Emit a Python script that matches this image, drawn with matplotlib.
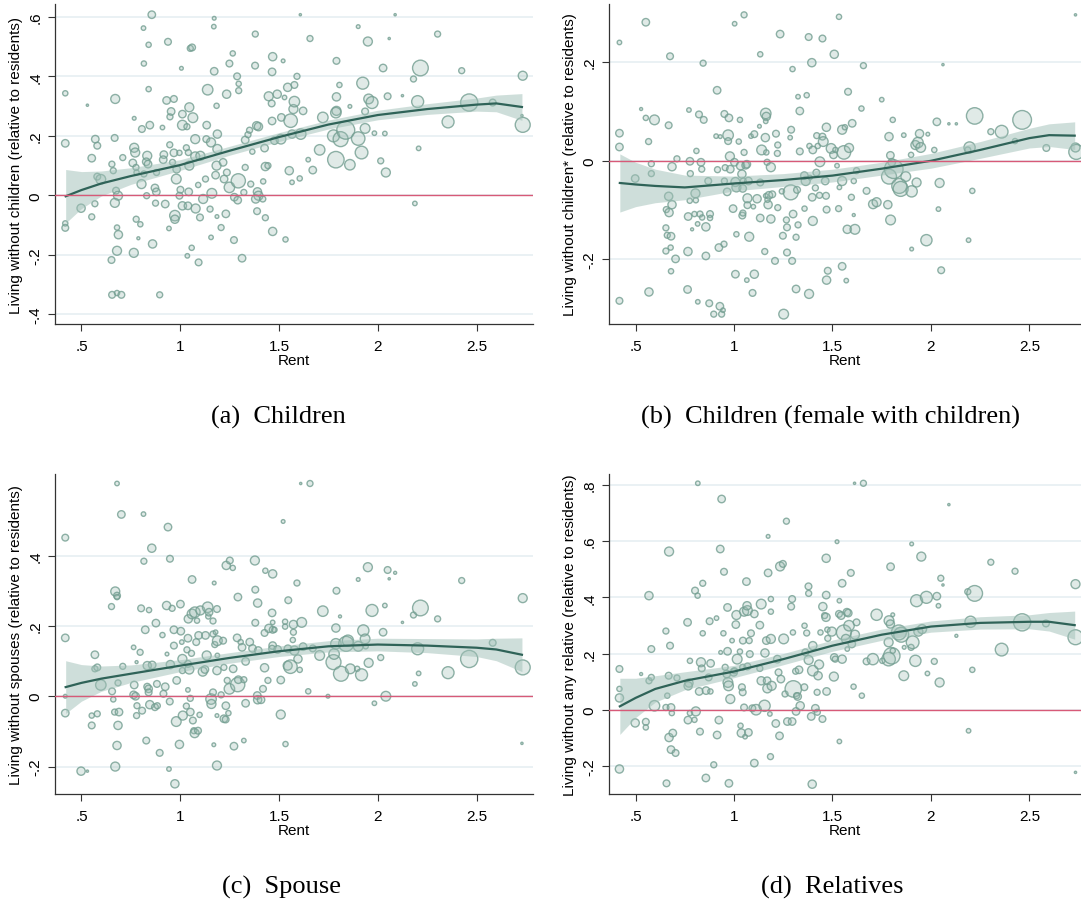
import numpy as np
import matplotlib
matplotlib.use("Agg")
import matplotlib.pyplot as plt

# scatter points per panel: (rent, value, weight)
a_points = [
    (0.418, 0.343, 7), (0.418, 0.175, 10), (0.418, -0.094, 7), (0.418, -0.109, 9), (0.530, 0.303, 3),
    (0.498, -0.043, 11), (0.552, 0.125, 10), (0.570, 0.189, 10), (0.580, 0.167, 9), (0.580, 0.063, 9),
    (0.598, 0.054, 13), (0.568, -0.028, 8), (0.552, -0.072, 8), (0.671, 0.324, 12), (0.668, 0.193, 9),
    (0.654, 0.105, 8), (0.661, 0.083, 8), (0.675, 0.016, 9), (0.685, -0.001, 12), (0.669, -0.025, 12),
    (0.680, -0.108, 7), (0.687, -0.132, 11), (0.680, -0.186, 12), (0.652, -0.217, 9), (0.655, -0.334, 9),
    (0.680, -0.328, 7), (0.702, -0.334, 9), (0.709, 0.127, 8), (0.767, 0.259, 5), (0.767, 0.160, 12),
    (0.772, 0.144, 12), (0.760, 0.109, 10), (0.776, 0.094, 8), (0.779, 0.077, 7), (0.804, 0.038, 12),
    (0.806, 0.223, 9), (0.814, 0.562, 6), (0.816, 0.443, 7), (0.840, 0.506, 7), (0.840, 0.357, 7),
    (0.846, 0.236, 10), (0.833, 0.133, 12), (0.828, 0.113, 10), (0.837, 0.105, 10), (0.856, 0.607, 10),
    (0.816, 0.072, 8), (0.830, -0.001, 8), (0.777, -0.080, 8), (0.798, -0.097, 7), (0.788, -0.144, 4),
    (0.765, -0.193, 12), (0.860, -0.163, 11), (0.872, 0.025, 10), (0.879, 0.012, 10), (0.880, 0.077, 8),
    (0.875, -0.026, 8), (0.896, -0.334, 8), (0.910, 0.228, 6), (0.917, 0.137, 10), (0.914, 0.120, 10),
    (0.924, -0.029, 10), (0.931, 0.319, 10), (0.938, 0.516, 9), (0.943, -0.111, 6), (0.948, 0.264, 8),
    (0.947, 0.170, 8), (0.954, 0.282, 10), (0.968, 0.324, 9), (0.961, 0.111, 8), (0.968, 0.143, 10),
    (0.973, -0.068, 14), (0.973, -0.080, 11), (0.980, 0.055, 13), (0.982, 0.088, 10), (0.996, 0.143, 7),
    (1.006, 0.427, 5), (1.011, 0.273, 10), (1.011, 0.236, 13), (0.996, -0.001, 9), (1.001, 0.019, 9),
    (1.011, -0.035, 11), (1.034, 0.231, 8), (1.031, 0.160, 8), (1.041, 0.144, 8), (1.043, 0.012, 10),
    (1.039, -0.035, 10), (1.046, 0.100, 12), (1.036, -0.203, 6), (1.046, 0.296, 12), (1.051, 0.494, 8),
    (1.060, 0.497, 9), (1.058, -0.176, 7), (1.064, 0.261, 13), (1.076, 0.189, 12), (1.076, 0.131, 12),
    (1.078, -0.044, 12), (1.093, -0.225, 9), (1.091, 0.035, 7), (1.100, -0.074, 9), (1.102, 0.133, 12),
    (1.116, -0.012, 12), (1.128, 0.055, 8), (1.134, 0.236, 10), (1.139, 0.355, 14), (1.132, 0.189, 9),
    (1.151, -0.046, 8), (1.156, -0.141, 6), (1.156, 0.178, 12), (1.160, 0.007, 13), (1.172, 0.595, 5),
    (1.170, 0.567, 6), (1.172, 0.417, 10), (1.184, 0.301, 7), (1.188, 0.206, 11), (1.188, 0.156, 12),
    (1.184, 0.100, 12), (1.186, -0.071, 5), (1.179, 0.068, 10), (1.207, -0.108, 8), (1.217, 0.111, 10),
    (1.222, 0.055, 10), (1.231, -0.062, 10), (1.235, 0.340, 11), (1.236, 0.077, 9), (1.249, 0.027, 14),
    (1.249, 0.443, 9), (1.266, 0.477, 7), (1.274, -0.006, 10), (1.272, -0.150, 9), (1.288, 0.400, 9),
    (1.296, 0.375, 7), (1.296, 0.352, 8), (1.294, 0.049, 19), (1.291, -0.016, 10), (1.313, -0.211, 10),
    (1.322, 0.010, 8), (1.329, 0.094, 8), (1.329, 0.186, 10), (1.343, 0.204, 8), (1.351, 0.219, 8),
    (1.365, 0.147, 7), (1.357, 0.038, 8), (1.380, 0.542, 8), (1.379, 0.436, 9), (1.387, 0.234, 11),
    (1.396, 0.231, 11), (1.391, 0.012, 11), (1.396, -0.001, 12), (1.382, -0.012, 11), (1.389, -0.053, 9),
    (1.418, -0.012, 8), (1.420, 0.047, 7), (1.427, 0.159, 10), (1.431, 0.097, 11), (1.444, 0.100, 8),
    (1.431, -0.075, 8), (1.448, 0.333, 12), (1.463, 0.309, 9), (1.465, 0.415, 10), (1.468, 0.466, 11),
    (1.465, 0.250, 10), (1.468, -0.121, 11), (1.477, 0.184, 10), (1.491, 0.340, 11), (1.510, 0.189, 13),
    (1.512, 0.262, 10), (1.521, 0.452, 5), (1.528, 0.329, 6), (1.533, -0.148, 7), (1.544, 0.363, 11),
    (1.552, 0.083, 11), (1.559, 0.251, 18), (1.566, 0.206, 11), (1.566, 0.044, 6), (1.573, 0.290, 12),
    (1.578, 0.315, 14), (1.578, 0.371, 9), (1.591, 0.400, 8), (1.605, 0.057, 7), (1.608, 0.607, 3),
    (1.610, 0.206, 14), (1.622, 0.284, 10), (1.648, 0.120, 6), (1.657, 0.527, 8), (1.671, 0.085, 10),
    (1.706, 0.153, 14), (1.722, 0.262, 14), (1.791, 0.452, 9), (1.776, 0.200, 16), (1.791, 0.284, 12),
    (1.791, 0.331, 11), (1.788, 0.278, 14), (1.806, 0.371, 7), (1.788, 0.120, 22), (1.812, 0.189, 20),
    (1.838, 0.219, 24), (1.859, 0.299, 5), (1.859, 0.103, 14), (1.901, 0.567, 5), (1.901, 0.191, 18),
    (1.918, 0.144, 17), (1.924, 0.377, 16), (1.936, 0.225, 13), (1.936, 0.282, 9), (1.950, 0.517, 12),
    (1.954, 0.324, 13), (1.971, 0.312, 16), (1.983, 0.209, 6), (2.015, 0.116, 8), (2.027, 0.428, 10),
    (2.036, 0.208, 6), (2.041, 0.077, 12), (2.050, 0.333, 9), (2.058, 0.527, 3), (2.088, 0.607, 3),
    (2.125, 0.335, 3), (2.181, 0.391, 8), (2.188, -0.027, 6), (2.202, 0.315, 16), (2.207, 0.158, 6),
    (2.216, 0.428, 21), (2.303, 0.542, 8), (2.356, 0.247, 16), (2.425, 0.419, 8), (2.463, 0.312, 23),
    (2.582, 0.312, 9), (2.734, 0.402, 12), (2.734, 0.237, 20), (2.730, 0.268, 3),
]

b_points = [
    (0.418, 0.240, 6), (0.418, 0.056, 10), (0.418, 0.028, 10), (0.418, -0.284, 9), (0.498, -0.036, 10),
    (0.528, 0.105, 4), (0.552, 0.281, 10), (0.552, 0.087, 7), (0.596, 0.083, 13), (0.566, 0.039, 8),
    (0.580, -0.006, 8), (0.580, -0.026, 8), (0.568, -0.266, 11), (0.668, 0.072, 9), (0.675, 0.212, 9),
    (0.685, -0.012, 11), (0.668, -0.072, 11), (0.685, -0.089, 11), (0.656, -0.099, 8), (0.670, -0.105, 11),
    (0.654, -0.136, 8), (0.661, -0.151, 8), (0.680, -0.153, 10), (0.678, -0.176, 7), (0.654, -0.183, 8),
    (0.703, -0.199, 10), (0.680, -0.224, 7), (0.710, 0.004, 8), (0.771, 0.103, 6), (0.822, 0.094, 9),
    (0.846, 0.083, 9), (0.843, 0.198, 8), (0.809, 0.020, 7), (0.776, -0.001, 10), (0.832, -0.003, 10),
    (0.836, -0.017, 8), (0.778, -0.026, 8), (0.804, -0.066, 12), (0.775, -0.081, 7), (0.806, -0.080, 7),
    (0.799, -0.108, 7), (0.767, -0.113, 10), (0.827, -0.108, 8), (0.838, -0.115, 7), (0.815, -0.128, 6),
    (0.787, -0.139, 4), (0.857, -0.134, 11), (0.878, -0.108, 9), (0.878, -0.116, 7), (0.869, -0.041, 9),
    (0.857, -0.193, 10), (0.766, -0.184, 11), (0.764, -0.261, 10), (0.816, -0.286, 6), (0.874, -0.289, 9),
    (0.897, -0.311, 8), (0.928, -0.295, 10), (0.937, -0.311, 8), (0.944, -0.303, 6), (0.914, 0.143, 10),
    (0.909, 0.050, 6), (0.930, 0.049, 5), (0.916, -0.018, 8), (0.951, 0.095, 9), (0.955, -0.014, 8),
    (0.951, -0.041, 8), (0.965, -0.063, 10), (0.923, -0.176, 10), (0.949, -0.169, 8), (0.970, 0.052, 14),
    (0.970, 0.040, 9), (0.974, 0.087, 10), (0.979, 0.009, 12), (0.981, -0.017, 10), (0.995, -0.097, 10),
    (1.002, -0.003, 10), (1.007, -0.043, 12), (1.012, -0.054, 12), (1.003, 0.278, 6), (1.007, -0.230, 10),
    (1.012, -0.149, 7), (1.024, 0.039, 7), (1.030, 0.083, 7), (1.033, -0.010, 11), (1.040, -0.027, 11),
    (1.044, -0.056, 10), (1.047, -0.041, 8), (1.051, 0.296, 8), (1.051, 0.017, 8), (1.059, -0.009, 10),
    (1.065, -0.007, 10), (1.068, -0.076, 12), (1.073, -0.041, 10), (1.068, -0.090, 9), (1.077, -0.154, 12),
    (1.042, -0.111, 9), (1.045, -0.106, 8), (1.065, -0.242, 6), (1.103, -0.230, 11), (1.094, -0.268, 9),
    (1.086, 0.050, 6), (1.098, -0.093, 6), (1.103, 0.054, 9), (1.117, -0.077, 11), (1.133, -0.044, 9),
    (1.129, 0.070, 5), (1.133, 0.216, 7), (1.133, -0.116, 10), (1.140, 0.022, 13), (1.156, -0.184, 8),
    (1.161, -0.071, 6), (1.161, 0.096, 14), (1.164, 0.090, 11), (1.161, 0.080, 6), (1.159, 0.047, 11),
    (1.164, 0.017, 7), (1.168, -0.003, 8), (1.173, -0.089, 11), (1.170, -0.079, 7), (1.177, -0.070, 10),
    (1.187, -0.013, 12), (1.187, -0.118, 11), (1.194, -0.068, 9), (1.208, -0.203, 9), (1.213, 0.055, 9),
    (1.222, 0.032, 8), (1.222, -0.095, 8), (1.220, 0.015, 8), (1.234, 0.257, 10), (1.243, -0.062, 7),
    (1.248, -0.152, 9), (1.252, -0.311, 13), (1.269, -0.135, 9), (1.269, -0.186, 9), (1.266, -0.120, 8),
    (1.290, 0.063, 9), (1.285, 0.047, 6), (1.288, -0.064, 20), (1.295, -0.203, 9), (1.300, -0.108, 10),
    (1.297, 0.186, 7), (1.315, -0.155, 8), (1.315, -0.260, 10), (1.320, -0.059, 9), (1.325, 0.130, 6),
    (1.334, 0.101, 10), (1.325, -0.130, 8), (1.334, 0.019, 9), (1.358, -0.097, 7), (1.357, -0.030, 10),
    (1.364, -0.041, 12), (1.369, 0.133, 7), (1.379, 0.251, 9), (1.381, -0.270, 12), (1.383, 0.030, 7),
    (1.386, -0.034, 6), (1.395, 0.199, 11), (1.397, -0.074, 10), (1.400, -0.122, 12), (1.400, 0.022, 10),
    (1.413, -0.055, 8), (1.418, -0.024, 9), (1.425, 0.030, 7), (1.434, -0.070, 8), (1.420, 0.051, 8),
    (1.449, 0.248, 9), (1.449, 0.049, 9), (1.453, 0.039, 13), (1.436, -0.002, 13), (1.469, 0.068, 11),
    (1.463, -0.041, 10), (1.467, -0.071, 9), (1.470, -0.099, 9), (1.476, -0.223, 9), (1.470, -0.242, 11),
    (1.493, 0.025, 13), (1.509, 0.216, 11), (1.505, 0.012, 10), (1.515, 0.022, 7), (1.523, -0.010, 6),
    (1.533, 0.292, 7), (1.535, -0.054, 6), (1.531, -0.097, 8), (1.549, 0.063, 12), (1.558, 0.017, 18),
    (1.549, -0.041, 12), (1.549, -0.214, 10), (1.563, 0.068, 7), (1.570, -0.243, 6), (1.575, -0.139, 11),
    (1.579, 0.140, 9), (1.584, 0.026, 12), (1.596, -0.074, 8), (1.600, 0.076, 10), (1.614, -0.139, 13),
    (1.608, -0.041, 7), (1.608, -0.110, 4), (1.622, -0.020, 8), (1.647, 0.106, 7), (1.657, 0.193, 8),
    (1.673, -0.061, 9), (1.706, -0.088, 12), (1.724, -0.084, 12), (1.750, 0.124, 6), (1.781, -0.089, 11),
    (1.787, 0.049, 11), (1.794, 0.011, 10), (1.795, -0.120, 13), (1.787, -0.032, 20), (1.801, -0.003, 10),
    (1.806, 0.083, 7), (1.811, -0.017, 25), (1.839, -0.051, 20), (1.846, -0.057, 20), (1.862, 0.052, 6),
    (1.872, -0.032, 13), (1.902, -0.062, 15), (1.902, -0.179, 5), (1.899, 0.012, 7), (1.921, 0.032, 12),
    (1.927, -0.044, 12), (1.934, 0.037, 14), (1.942, 0.055, 11), (1.948, 0.027, 13), (1.984, 0.054, 5),
    (1.977, -0.161, 15), (2.017, 0.022, 7), (2.030, 0.079, 10), (2.038, -0.098, 6), (2.044, -0.045, 12),
    (2.052, -0.222, 9), (2.061, 0.195, 3), (2.091, 0.075, 3), (2.129, 0.075, 3), (2.187, 0.022, 8),
    (2.196, 0.027, 15), (2.191, -0.161, 6), (2.210, -0.061, 7), (2.222, 0.091, 22), (2.304, 0.059, 8),
    (2.359, 0.059, 17), (2.427, 0.040, 7), (2.463, 0.083, 25), (2.586, 0.026, 9), (2.734, 0.296, 3),
    (2.734, 0.027, 12), (2.738, 0.018, 20),
]

c_points = [
    (0.418, 0.451, 9), (0.418, 0.166, 10), (0.418, 0.000, 5), (0.418, -0.048, 10), (0.498, -0.213, 11),
    (0.530, -0.213, 3), (0.552, -0.083, 9), (0.552, -0.055, 7), (0.568, 0.118, 10), (0.568, 0.078, 8),
    (0.580, 0.082, 9), (0.580, -0.050, 8), (0.598, 0.032, 14), (0.652, 0.255, 8), (0.655, 0.014, 9),
    (0.661, -0.009, 7), (0.668, -0.045, 8), (0.671, 0.298, 12), (0.680, 0.286, 9), (0.680, 0.282, 7),
    (0.680, 0.605, 6), (0.680, -0.140, 11), (0.685, 0.038, 8), (0.685, -0.083, 11), (0.690, -0.045, 10),
    (0.671, -0.200, 12), (0.702, 0.517, 10), (0.709, 0.085, 8), (0.764, 0.139, 6), (0.767, 0.032, 10),
    (0.764, 0.004, 10), (0.774, 0.000, 10), (0.779, -0.055, 8), (0.781, -0.027, 8), (0.779, 0.097, 4),
    (0.797, 0.125, 8), (0.807, -0.041, 9), (0.802, 0.250, 9), (0.814, 0.518, 6), (0.816, 0.384, 8),
    (0.823, 0.189, 10), (0.833, 0.087, 11), (0.828, -0.126, 9), (0.833, 0.027, 9), (0.842, 0.245, 7),
    (0.840, 0.021, 10), (0.840, 0.011, 9), (0.846, -0.024, 11), (0.856, 0.421, 11), (0.858, 0.089, 10),
    (0.872, -0.031, 9), (0.877, 0.208, 10), (0.882, 0.035, 9), (0.884, -0.027, 8), (0.896, -0.161, 9),
    (0.910, 0.174, 7), (0.915, 0.007, 9), (0.924, 0.027, 10), (0.931, 0.258, 11), (0.933, 0.120, 5),
    (0.938, 0.481, 10), (0.943, -0.207, 6), (0.948, 0.391, 9), (0.947, -0.015, 9), (0.950, 0.090, 11),
    (0.959, 0.250, 8), (0.968, 0.189, 10), (0.968, 0.144, 9), (0.973, -0.249, 11), (0.980, -0.072, 13),
    (0.982, 0.045, 10), (0.996, -0.137, 11), (1.001, 0.262, 10), (1.003, 0.185, 10), (1.011, 0.106, 12),
    (1.008, 0.154, 6), (1.011, 0.073, 8), (1.013, -0.055, 12), (1.031, -0.028, 8), (1.034, 0.132, 8),
    (1.039, 0.018, 6), (1.039, 0.165, 10), (1.039, 0.092, 9), (1.041, 0.220, 11), (1.046, 0.076, 12),
    (1.051, -0.006, 8), (1.051, -0.045, 10), (1.057, 0.122, 8), (1.060, 0.332, 10), (1.060, 0.234, 13),
    (1.064, -0.069, 9), (1.069, -0.098, 8), (1.073, -0.105, 12), (1.074, 0.239, 14), (1.081, 0.154, 9),
    (1.085, 0.215, 7), (1.090, -0.098, 9), (1.093, 0.173, 10), (1.098, -0.053, 7), (1.102, 0.244, 12),
    (1.114, 0.070, 12), (1.125, 0.076, 10), (1.128, 0.173, 10), (1.134, 0.116, 12), (1.139, 0.253, 14),
    (1.142, 0.227, 7), (1.146, 0.239, 10), (1.156, -0.008, 14), (1.158, -0.022, 12), (1.166, 0.214, 8),
    (1.166, 0.011, 9), (1.172, 0.322, 5), (1.166, 0.177, 8), (1.170, -0.138, 5), (1.179, 0.182, 6),
    (1.175, 0.147, 8), (1.186, 0.248, 9), (1.186, 0.073, 11), (1.186, -0.197, 12), (1.188, 0.116, 6),
    (1.188, 0.158, 13), (1.186, -0.055, 5), (1.207, 0.004, 8), (1.217, 0.158, 9), (1.221, 0.082, 8),
    (1.221, -0.064, 10), (1.231, -0.027, 10), (1.230, -0.066, 9), (1.233, 0.372, 11), (1.251, 0.386, 9),
    (1.244, -0.048, 7), (1.249, 0.021, 14), (1.238, 0.045, 8), (1.266, 0.365, 7), (1.268, 0.078, 10),
    (1.272, -0.142, 10), (1.288, 0.166, 10), (1.291, 0.033, 19), (1.292, 0.282, 10), (1.294, 0.047, 10),
    (1.306, 0.154, 7), (1.313, 0.139, 10), (1.322, 0.047, 8), (1.322, -0.126, 6), (1.331, 0.099, 10),
    (1.331, -0.020, 10), (1.352, 0.154, 10), (1.366, 0.136, 10), (1.378, 0.386, 12), (1.380, 0.303, 9),
    (1.380, 0.209, 9), (1.392, 0.265, 11), (1.395, 0.130, 10), (1.390, 0.002, 10), (1.392, -0.010, 11),
    (1.409, -0.010, 10), (1.419, 0.021, 9), (1.427, 0.081, 11), (1.427, 0.180, 9), (1.431, 0.357, 7),
    (1.444, 0.045, 8), (1.449, 0.193, 11), (1.468, 0.348, 11), (1.465, 0.237, 10), (1.468, 0.210, 6),
    (1.468, 0.189, 9), (1.468, 0.144, 10), (1.465, 0.135, 9), (1.477, 0.189, 7), (1.493, 0.133, 10),
    (1.509, 0.046, 10), (1.509, -0.052, 12), (1.521, 0.497, 5), (1.531, 0.212, 7), (1.531, 0.198, 7),
    (1.533, -0.136, 7), (1.547, 0.273, 9), (1.545, 0.135, 10), (1.544, 0.087, 12), (1.558, 0.084, 18),
    (1.570, 0.160, 7), (1.573, 0.182, 8), (1.573, 0.204, 11), (1.578, 0.130, 12), (1.591, 0.322, 8),
    (1.596, 0.106, 11), (1.605, 0.075, 7), (1.610, 0.605, 3), (1.615, 0.210, 13), (1.622, 0.141, 10),
    (1.648, 0.014, 7), (1.657, 0.605, 8), (1.671, 0.136, 9), (1.706, 0.116, 13), (1.722, 0.242, 14),
    (1.748, 0.000, 5), (1.776, 0.097, 20), (1.788, 0.194, 11), (1.791, 0.300, 9), (1.779, 0.120, 14),
    (1.788, 0.149, 14), (1.814, 0.064, 20), (1.809, 0.227, 4), (1.840, 0.149, 20), (1.849, 0.158, 15),
    (1.861, 0.078, 13), (1.901, 0.142, 13), (1.901, 0.332, 5), (1.896, 0.078, 7), (1.918, 0.061, 16),
    (1.927, 0.187, 15), (1.936, 0.163, 13), (1.939, 0.142, 7), (1.950, 0.367, 12), (1.954, 0.095, 12),
    (1.971, 0.244, 16), (1.983, -0.020, 6), (2.015, 0.110, 8), (2.027, 0.182, 10), (2.036, 0.258, 6),
    (2.041, 0.000, 13), (2.050, 0.359, 9), (2.058, 0.334, 3), (2.088, 0.351, 4), (2.125, 0.210, 3),
    (2.181, 0.231, 8), (2.188, 0.035, 6), (2.202, 0.135, 16), (2.207, 0.065, 6), (2.216, 0.251, 21),
    (2.303, 0.220, 8), (2.356, 0.067, 16), (2.425, 0.329, 8), (2.463, 0.106, 23), (2.582, 0.152, 9),
    (2.734, 0.279, 12), (2.734, 0.082, 20), (2.730, -0.134, 3),
]

d_points = [
    (0.418, 0.145, 9), (0.418, 0.074, 7), (0.418, 0.042, 11), (0.418, -0.211, 11), (0.498, -0.047, 11),
    (0.528, 0.127, 4), (0.552, -0.043, 9), (0.552, -0.063, 7), (0.568, 0.406, 11), (0.568, 0.103, 8),
    (0.580, 0.115, 8), (0.580, 0.216, 9), (0.596, 0.014, 14), (0.654, 0.280, 8), (0.661, 0.050, 7),
    (0.654, 0.008, 8), (0.670, 0.563, 12), (0.668, 0.121, 9), (0.675, 0.228, 9), (0.680, 0.008, 10),
    (0.684, -0.012, 7), (0.670, -0.099, 11), (0.689, -0.083, 10), (0.680, -0.142, 10), (0.703, -0.154, 9),
    (0.657, -0.262, 9), (0.710, 0.113, 8), (0.764, 0.311, 10), (0.776, 0.174, 7), (0.771, 0.095, 11),
    (0.767, 0.085, 11), (0.776, -0.012, 7), (0.766, -0.037, 10), (0.799, -0.036, 7), (0.802, 0.424, 9),
    (0.815, 0.406, 7), (0.816, 0.806, 6), (0.832, 0.169, 12), (0.836, 0.147, 9), (0.841, 0.450, 8),
    (0.841, 0.272, 7), (0.823, 0.065, 10), (0.806, -0.006, 12), (0.827, -0.078, 9), (0.857, -0.243, 10),
    (0.858, 0.068, 10), (0.876, 0.315, 9), (0.871, 0.115, 9), (0.881, 0.165, 10), (0.880, 0.065, 7),
    (0.897, -0.196, 8), (0.911, 0.326, 6), (0.914, -0.090, 10), (0.923, -0.037, 10), (0.930, 0.572, 10),
    (0.937, 0.750, 10), (0.932, 0.204, 5), (0.946, 0.272, 7), (0.949, 0.491, 9), (0.955, 0.151, 8),
    (0.963, 0.127, 10), (0.967, 0.364, 10), (0.967, 0.208, 10), (0.969, 0.097, 13), (0.972, 0.085, 13),
    (0.974, -0.262, 10), (0.981, 0.038, 12), (0.990, 0.246, 6), (0.998, 0.133, 10), (1.002, 0.139, 8),
    (1.009, 0.303, 10), (1.012, 0.337, 12), (1.016, 0.180, 13), (1.030, 0.207, 7), (1.033, -0.057, 7),
    (1.037, -0.083, 11), (1.040, 0.080, 9), (1.044, 0.062, 9), (1.044, 0.151, 8), (1.045, 0.246, 9),
    (1.051, 0.349, 12), (1.051, 0.008, 9), (1.056, -0.096, 6), (1.063, 0.456, 10), (1.068, 0.353, 13),
    (1.066, 0.370, 11), (1.073, -0.081, 10), (1.077, 0.246, 8), (1.080, 0.198, 9), (1.068, 0.154, 9),
    (1.086, 0.272, 9), (1.093, 0.005, 9), (1.103, 0.341, 10), (1.103, -0.190, 10), (1.112, 0.000, 14),
    (1.131, 0.301, 10), (1.138, 0.376, 13), (1.131, 0.147, 8), (1.138, 0.103, 11), (1.155, 0.014, 15),
    (1.157, 0.202, 11), (1.164, 0.246, 10), (1.168, 0.103, 10), (1.169, 0.076, 12), (1.173, 0.487, 10),
    (1.173, 0.617, 5), (1.185, -0.167, 8), (1.187, 0.394, 7), (1.187, 0.349, 7), (1.187, 0.252, 12),
    (1.191, 0.085, 12), (1.182, -0.015, 6), (1.212, -0.049, 10), (1.220, 0.180, 10), (1.226, 0.133, 9),
    (1.231, -0.093, 10), (1.234, 0.510, 12), (1.248, 0.519, 9), (1.238, 0.109, 10), (1.252, 0.252, 13),
    (1.259, 0.056, 8), (1.266, 0.671, 8), (1.271, -0.042, 10), (1.295, -0.042, 10), (1.295, 0.394, 9),
    (1.290, 0.367, 9), (1.301, 0.074, 22), (1.299, 0.275, 7), (1.313, 0.137, 8), (1.318, 0.050, 8),
    (1.323, 0.047, 10), (1.315, -0.006, 10), (1.336, 0.014, 11), (1.330, 0.142, 10), (1.357, 0.080, 9),
    (1.358, 0.299, 7), (1.362, 0.204, 9), (1.369, 0.273, 8), (1.378, 0.439, 9), (1.379, 0.414, 8),
    (1.379, 0.177, 12), (1.392, -0.024, 10), (1.397, -0.265, 11), (1.400, 0.139, 14), (1.400, 0.228, 11),
    (1.413, 0.005, 10), (1.423, -0.009, 8), (1.422, 0.062, 8), (1.427, 0.121, 11), (1.432, 0.161, 12),
    (1.439, 0.275, 7), (1.449, -0.033, 9), (1.451, 0.367, 11), (1.460, 0.335, 8), (1.467, 0.329, 11),
    (1.468, 0.408, 10), (1.468, 0.539, 11), (1.470, 0.065, 10), (1.474, 0.285, 7), (1.476, 0.254, 8),
    (1.497, 0.278, 12), (1.507, 0.118, 12), (1.509, 0.186, 10), (1.514, 0.180, 8), (1.523, 0.598, 5),
    (1.535, -0.113, 6), (1.535, 0.388, 6), (1.533, 0.341, 9), (1.544, 0.335, 10), (1.549, 0.450, 10),
    (1.549, 0.180, 11), (1.558, 0.275, 20), (1.568, 0.252, 12), (1.573, 0.347, 10), (1.580, 0.344, 10),
    (1.575, 0.216, 6), (1.584, 0.299, 14), (1.598, 0.234, 10), (1.593, 0.487, 9), (1.614, 0.267, 12),
    (1.607, 0.082, 7), (1.622, 0.311, 9), (1.612, 0.806, 3), (1.657, 0.806, 8), (1.649, 0.050, 7),
    (1.673, 0.172, 9), (1.705, 0.180, 15), (1.724, 0.338, 15), (1.753, 0.174, 7), (1.785, 0.180, 18),
    (1.795, 0.509, 10), (1.787, 0.317, 13), (1.794, 0.305, 11), (1.785, 0.240, 12), (1.801, 0.192, 22),
    (1.806, 0.210, 7), (1.806, 0.338, 5), (1.837, 0.275, 20), (1.849, 0.267, 20), (1.862, 0.121, 13),
    (1.864, 0.222, 5), (1.899, 0.222, 8), (1.902, 0.590, 5), (1.907, 0.240, 17), (1.921, 0.174, 15),
    (1.927, 0.388, 16), (1.936, 0.278, 12), (1.951, 0.545, 12), (1.955, 0.287, 12), (1.977, 0.400, 16),
    (1.982, 0.129, 6), (2.017, 0.172, 8), (2.030, 0.404, 10), (2.038, 0.370, 6), (2.050, 0.468, 8),
    (2.061, 0.444, 3), (2.044, 0.097, 12), (2.091, 0.730, 3), (2.129, 0.263, 4), (2.187, 0.420, 8),
    (2.191, -0.075, 6), (2.210, 0.142, 7), (2.201, 0.313, 15), (2.222, 0.414, 21), (2.304, 0.525, 8),
    (2.359, 0.214, 17), (2.427, 0.493, 8), (2.463, 0.311, 23), (2.584, 0.307, 9), (2.734, 0.447, 12),
    (2.734, 0.258, 20), (2.734, -0.223, 3),
]

# local polynomial fit with 95% band (read at these rents)
fit_rent = [0.42, 0.5, 0.6, 0.75, 1.0, 1.25, 1.5, 1.75, 2.0, 2.25, 2.5, 2.6, 2.73]
a_fit = [-0.003, 0.018, 0.04, 0.065, 0.102, 0.15, 0.196, 0.238, 0.27, 0.29, 0.305, 0.309, 0.297]
a_ci = [0.09, 0.062, 0.042, 0.028, 0.018, 0.015, 0.015, 0.015, 0.016, 0.018, 0.022, 0.028, 0.045]
b_fit = [-0.045, -0.048, -0.051, -0.054, -0.046, -0.039, -0.030, -0.016, 0.0, 0.022, 0.046, 0.052, 0.051]
b_ci = [0.059, 0.045, 0.034, 0.025, 0.015, 0.013, 0.013, 0.013, 0.015, 0.017, 0.02, 0.023, 0.028]
c_fit = [0.026, 0.038, 0.05, 0.064, 0.087, 0.109, 0.128, 0.142, 0.147, 0.144, 0.138, 0.133, 0.118]
c_ci = [0.075, 0.052, 0.036, 0.025, 0.017, 0.015, 0.015, 0.016, 0.018, 0.02, 0.025, 0.032, 0.048]
d_fit = [0.012, 0.042, 0.074, 0.103, 0.136, 0.18, 0.228, 0.267, 0.296, 0.309, 0.313, 0.313, 0.301]
d_ci = [0.1, 0.07, 0.047, 0.032, 0.022, 0.02, 0.02, 0.02, 0.02, 0.022, 0.025, 0.033, 0.05]

y_labels = [
    "Living without children (relative to residents)",
    "Living without children* (relative to residents)",
    "Living without spouses (relative to residents)",
    "Living without any relative (relative to residents)",
]
captions = ["(a)  Children", "(b)  Children (female with children)", "(c)  Spouse", "(d)  Relatives"]
y_ticks = [
    [-0.4, -0.2, 0, 0.2, 0.4, 0.6],
    [-0.2, 0, 0.2],
    [-0.2, 0, 0.2, 0.4],
    [-0.2, 0, 0.2, 0.4, 0.6, 0.8],
]
x_ticks = [0.5, 1, 1.5, 2, 2.5]


def stata_fmt(v):
    if v == 0:
        return "0"
    s = "{:g}".format(v)
    return s.replace("0.", ".")


plt.rcParams['font.family'] = ['Liberation Sans', 'DejaVu Sans']

fig = plt.figure(figsize=(10.81, 9.04), dpi=100)
W, H = 1081.0, 904.0

# axes boxes in pixels: left, top, right, bottom
boxes = [(55, 5, 533, 325), (609, 5, 1081, 325), (55, 475, 533, 795), (609, 475, 1081, 795)]
xlims = [(0.366, 2.786), (0.365, 2.762), (0.366, 2.786), (0.365, 2.762)]
ylims = [(-0.432, 0.643), (-0.331, 0.318), (-0.278, 0.632), (-0.300, 0.839)]
cap_pos = [(278, 417), (831, 417), (281, 887), (832, 887)]

panels = [(a_points, a_fit, a_ci), (b_points, b_fit, b_ci), (c_points, c_fit, c_ci), (d_points, d_fit, d_ci)]

for i, (pts, fit, ci) in enumerate(panels):
    l, t, r, b = boxes[i]
    ax = fig.add_axes([l / W, 1 - b / H, (r - l) / W, (b - t) / H])
    ax.set_xlim(*xlims[i])
    ax.set_ylim(*ylims[i])

    for yt in y_ticks[i]:
        ax.axhline(yt, color='#E4EEF1', lw=1.1, zorder=0)

    arr = np.array(pts)
    ax.scatter(arr[:, 0], arr[:, 1], s=0.29 * arr[:, 2] ** 2, facecolor=(0.60, 0.73, 0.69, 0.30),
               edgecolor=(0.45, 0.62, 0.57, 0.8), linewidth=1.0, zorder=2)

    fx = np.array(fit_rent)
    fy = np.array(fit)
    hw = np.array(ci)
    ax.fill_between(fx, fy - hw, fy + hw, color='#9FBFB6', alpha=0.5, lw=0, zorder=3)
    ax.plot(fx, fy, color='#2F6358', lw=1.6, zorder=4)
    ax.axhline(0, color='#D75A78', lw=1.0, zorder=5)

    ax.set_xticks(x_ticks)
    ax.set_xticklabels([stata_fmt(v) for v in x_ticks], fontsize=11)
    ax.set_yticks(y_ticks[i])
    ax.set_yticklabels([stata_fmt(v) for v in y_ticks[i]], fontsize=11, rotation=90, va='center')
    ax.tick_params(direction='out', length=5, width=0.8, color='#333333')
    ax.tick_params(axis='x', pad=6)
    ax.tick_params(axis='y', pad=4)
    for side in ['top', 'right']:
        ax.spines[side].set_visible(False)
    for side in ['left', 'bottom']:
        ax.spines[side].set_color('#333333')
        ax.spines[side].set_linewidth(0.9)
    ax.set_xlabel("Rent", fontsize=11, labelpad=0)
    ax.set_ylabel(y_labels[i], fontsize=11, labelpad=4)

    cx, cy = cap_pos[i]
    fig.text(cx / W, 1 - cy / H, captions[i], ha='center', va='center', fontsize=19,
             family=['Liberation Serif', 'DejaVu Serif'])

fig.savefig("out.png", dpi=100)
